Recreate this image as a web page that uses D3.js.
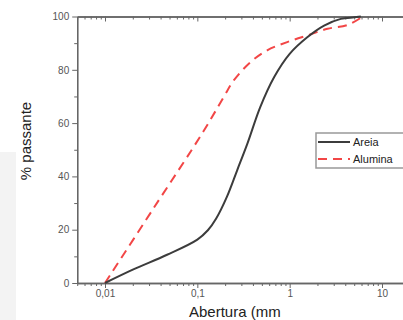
<!DOCTYPE html>
<html>
<head>
<meta charset="utf-8">
<script src="https://cdn.jsdelivr.net/npm/d3@7"></script>
<style>
  html, body { margin: 0; padding: 0; background: #fff; }
  svg { display: block; font-family: "Liberation Sans", Arial, sans-serif; }
</style>
</head>
<body>
<div id="chart"></div>
<script>
const WIDTH = 403
const HEIGHT = 320

// Areia (sand) - cumulative passing
const areiaSize = [0.01, 0.02, 0.047, 0.1, 0.13, 0.16, 0.21, 0.27, 0.35, 0.48, 0.68, 1.0, 1.55, 2.36, 3.58, 5.0, 5.9]
const areiaPass = [0, 5, 10.6, 16.3, 19.8, 24.2, 32.5, 42.3, 52.5, 66, 77.3, 86, 92.2, 96.6, 99.1, 99.7, 100]

// Alumina - cumulative passing
const aluminaSize = [0.01, 0.0335, 0.117, 0.193, 0.248, 0.377, 0.57, 0.94, 1.55, 2.57, 4.24, 6.2]
const aluminaPass = [0, 28, 57, 69.8, 76, 82.9, 87.3, 90.4, 92.9, 95.4, 96.8, 100]

const xMajor = [0.01, 0.1, 1, 10]
const yMajor = [0, 20, 40, 60, 80, 100]
const yMinor = [10, 30, 50, 70, 90]
const seriesNames = ['Areia', 'Alumina']

const x = d3.scaleLog().domain([0.01, 10]).range([105, 382])
const y = d3.scaleLinear().domain([0, 100]).range([283, 16.5])
const xMin = 0.005, xMax = 30

const xMinor = []
for (let d = 0.001; d <= 10; d *= 10) {
    for (let k = 2; k <= 9; k++) {
        const v = +(d * k).toPrecision(3)
        if (v >= xMin && v <= xMax) xMinor.push(v)
    }
}

const svg = d3.select('#chart').append('svg')
    .attr('width', WIDTH)
    .attr('height', HEIGHT)
    .attr('viewBox', `0 0 ${WIDTH} ${HEIGHT}`)

// faint grey strip at the left edge of the scan
svg.append('rect')
    .attr('x', 0).attr('y', 152).attr('width', 16).attr('height', HEIGHT - 152)
    .attr('fill', '#f3f3f3')

const fmt = d => String(d).replace('.', ',')

const styleAxis = g => {
    g.select('.domain').attr('stroke', '#666').attr('stroke-width', 1.3)
    g.selectAll('.tick line').attr('stroke', '#666').attr('stroke-width', 1)
    g.selectAll('.tick text').attr('fill', '#555').attr('font-size', 10)
        .attr('font-family', '"Liberation Sans", Arial, sans-serif')
}

// bottom axis
const xb = x.copy().domain([xMin, xMax]).range([x(xMin), x(xMax)])
svg.append('g')
    .attr('transform', `translate(0,${y(0)})`)
    .call(d3.axisBottom(xb).tickValues(xMinor).tickSize(3).tickFormat('').tickSizeOuter(0))
    .call(styleAxis)
svg.append('g')
    .attr('transform', `translate(0,${y(0)})`)
    .call(d3.axisBottom(xb).tickValues(xMajor).tickSize(5).tickPadding(2).tickFormat(fmt).tickSizeOuter(0))
    .call(styleAxis)

// top axis, ticks inward
svg.append('g')
    .attr('transform', `translate(0,${y(100)})`)
    .call(d3.axisTop(xb).tickValues(xMinor).tickSize(-3).tickFormat('').tickSizeOuter(0))
    .call(styleAxis)
svg.append('g')
    .attr('transform', `translate(0,${y(100)})`)
    .call(d3.axisTop(xb).tickValues(xMajor).tickSize(-5).tickFormat('').tickSizeOuter(0))
    .call(styleAxis)

// left axis
svg.append('g')
    .attr('transform', `translate(${x(xMin)},0)`)
    .call(d3.axisLeft(y).tickValues(yMinor).tickSize(3).tickFormat('').tickSizeOuter(0))
    .call(styleAxis)
svg.append('g')
    .attr('transform', `translate(${x(xMin)},0)`)
    .call(d3.axisLeft(y).tickValues(yMajor).tickSize(5).tickPadding(3).tickSizeOuter(0))
    .call(styleAxis)

// curves
const line = d3.line()
    .x(d => x(d[0]))
    .y(d => y(d[1]))
    .curve(d3.curveCatmullRom.alpha(0.5))

svg.append('path')
    .datum(d3.zip(aluminaSize, aluminaPass))
    .attr('fill', 'none')
    .attr('stroke', '#f24646')
    .attr('stroke-width', 2)
    .attr('stroke-dasharray', '9,6')
    .attr('d', line)

svg.append('path')
    .datum(d3.zip(areiaSize, areiaPass))
    .attr('fill', 'none')
    .attr('stroke', '#3c3c3c')
    .attr('stroke-width', 2)
    .attr('d', line)

// axis titles
svg.append('text')
    .attr('x', 189).attr('y', 317)
    .attr('font-size', 15).attr('fill', '#222')
    .text('Abertura (mm')

svg.append('text')
    .attr('transform', 'translate(31,141) rotate(-90)')
    .attr('text-anchor', 'middle')
    .attr('font-size', 15).attr('fill', '#222')
    .text('% passante')

// legend
const legend = svg.append('g').attr('transform', 'translate(316,133)')
legend.append('rect')
    .attr('width', 100).attr('height', 35)
    .attr('fill', '#fff').attr('stroke', '#999').attr('stroke-width', 1.5)

const legendStyle = [
    { stroke: '#3c3c3c', dash: null },
    { stroke: '#f24646', dash: '9,6' }
]
legend.selectAll('g.item')
    .data(seriesNames)
    .join('g')
    .attr('class', 'item')
    .attr('transform', (d, i) => `translate(0,${9 + i * 17})`)
    .call(g => g.append('line')
        .attr('x1', 2).attr('x2', 34)
        .attr('stroke', (d, i) => legendStyle[i].stroke)
        .attr('stroke-width', 2)
        .attr('stroke-dasharray', (d, i) => legendStyle[i].dash))
    .call(g => g.append('text')
        .attr('x', 37).attr('dy', '0.35em')
        .attr('font-size', 11).attr('fill', '#222')
        .text(d => d))
</script>
</body>
</html>
